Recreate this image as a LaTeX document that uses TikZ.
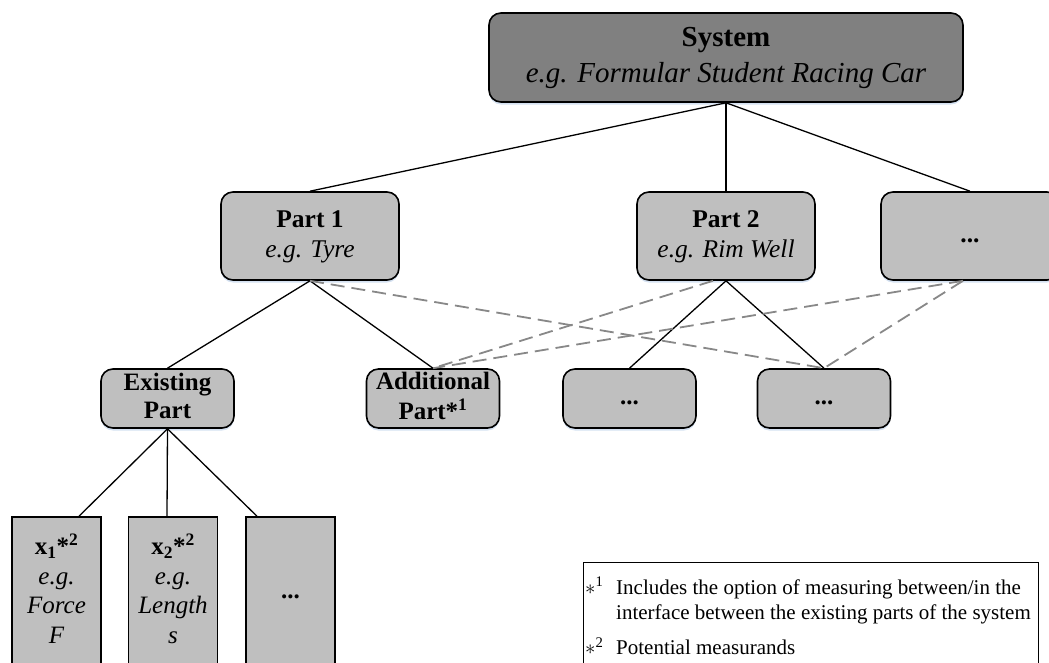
\documentclass[tikz,border=0pt]{standalone}
\usepackage{fontspec}
\setmainfont{Liberation Serif}
\usetikzlibrary{shadows}

\definecolor{sysfill}{RGB}{128,128,128}
\definecolor{partfill}{RGB}{191,191,191}
\definecolor{dashgray}{RGB}{136,136,136}
\definecolor{glow}{RGB}{208,222,240}

\tikzset{
  boxbase/.style={draw=black, line width=1.6pt, rounded corners=12pt, align=center, inner sep=0pt,
    drop shadow={shadow xshift=0pt, shadow yshift=-2.5pt, fill=glow, opacity=0.9}},
  sysbox/.style={boxbase, fill=sysfill, minimum width=474pt, minimum height=89pt,
    font=\fontsize{29}{36}\selectfont},
  partbox/.style={boxbase, fill=partfill, minimum width=178pt, minimum height=88pt,
    font=\fontsize{25.5}{30}\selectfont},
  subbox/.style={boxbase, fill=partfill, minimum width=133pt, minimum height=59pt,
    font=\fontsize{25}{28}\selectfont},
  quantbox/.style={draw=black, line width=1.6pt, fill=partfill, minimum width=89pt,
    minimum height=152pt, align=center, inner sep=0pt, font=\fontsize{25}{29.5}\selectfont},
  tree/.style={draw=black, line width=1.3pt},
  cross/.style={draw=dashgray, line width=1.8pt, dash pattern=on 14pt off 7pt},
  legendframe/.style={draw=black, line width=1.1pt, inner sep=0pt},
  legendtext/.style={anchor=west, inner sep=0pt, font=\fontsize{21}{25}\selectfont},
}

\begin{document}
\begin{tikzpicture}[x=1pt,y=-1pt]
\useasboundingbox (0,0) rectangle (1049,662);
\clip (0,0) rectangle (1049,662);

% top level
\node[sysbox] (sys) at (726,57.5) {\strut\textbf{System}\\\textit{e.g. Formular Student Racing Car}\strut};

% parts
\node[partbox] (p1) at (310,236) {\strut\textbf{Part 1}\\\textit{e.g. Tyre}\strut};
\node[partbox] (p2) at (726,236) {\strut\textbf{Part 2}\\\textit{e.g. Rim Well}\strut};
\node[partbox] (p3) at (970,236) {\strut\textbf{...}};

% sub-parts
\node[subbox] (ex)  at (167.5,398.5) {\strut\textbf{Existing}\\\textbf{Part}\strut};
\node[subbox] (add) at (433,398.5)   {\strut\textbf{Additional}\\\textbf{Part*\textsuperscript{1}}\strut};
\node[subbox] (s3)  at (629.5,398.5) {\strut\textbf{...}};
\node[subbox] (s4)  at (824,398.5)   {\strut\textbf{...}};

% measurands
\node[quantbox] (q1) at (56.5,593)  {\strut\textbf{x\textsubscript{1}*\textsuperscript{2}}\\\textit{e.g.}\\\textit{Force}\\\textit{F}\strut};
\node[quantbox] (q2) at (173,593)   {\strut\textbf{x\textsubscript{2}*\textsuperscript{2}}\\\textit{e.g.}\\\textit{Length}\\\textit{s}\strut};
\node[quantbox] (q3) at (290.5,593) {\strut\textbf{...}};

% hierarchy connectors
\draw[tree] (sys.south) -- (p1.north);
\draw[tree] (sys.south) -- (p2.north);
\draw[tree] (sys.south) -- (p3.north);
\draw[tree] (p1.south) -- (ex.north);
\draw[tree] (p1.south) -- (add.north);
\draw[tree] (p2.south) -- (s3.north);
\draw[tree] (p2.south) -- (s4.north);
\draw[tree] (ex.south) -- ([xshift=22.5pt]q1.north);
\draw[tree] (ex.south) -- ([xshift=-6pt]q2.north);
\draw[tree] (ex.south) -- ([xshift=-33.5pt]q3.north);

% cross relations
\draw[cross] (p1.south) -- (s4.north);
\draw[cross] ([xshift=-13pt]p2.south) -- (add.north);
\draw[cross] ([xshift=-7pt]p3.south) -- (add.north);
\draw[cross] ([xshift=-7pt]p3.south) -- (s4.north);

% legend
\node[legendframe, anchor=north west, minimum width=455pt, minimum height=140pt] (legend) at (583,562) {};
\node[legendtext] (n1) at (585,588) {\makebox[31pt][l]{$\ast$\textsuperscript{1}}Includes the option of measuring between/in the};
\node[legendtext] (n2) at (616,614) {interface between the existing parts of the system};
\node[legendtext] (n3) at (585,646) {\makebox[31pt][l]{$\ast$\textsuperscript{2}}Potential measurands};
\end{tikzpicture}
\end{document}
